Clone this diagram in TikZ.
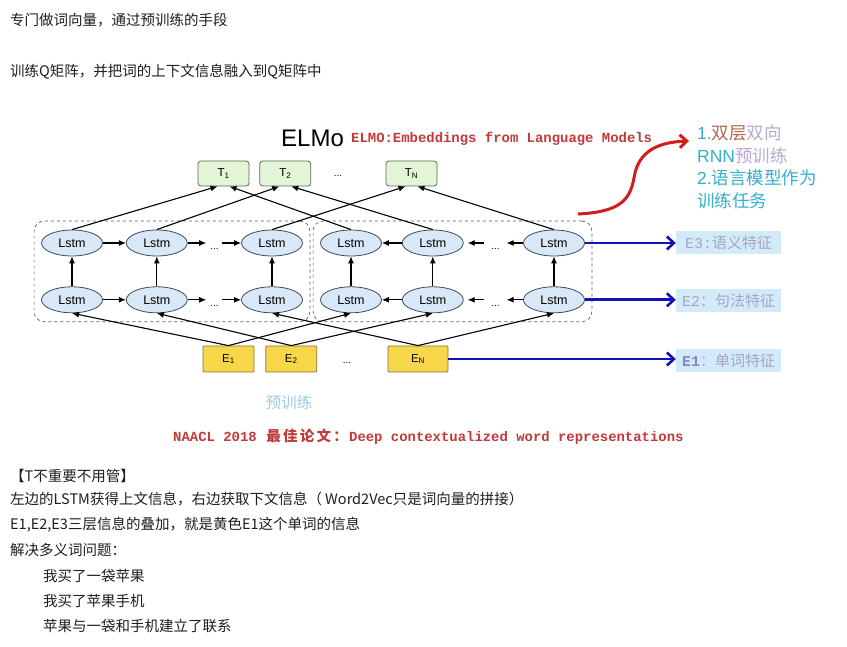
\documentclass[tikz,border=0pt]{standalone}
\usepackage{fontspec}
\setmainfont{Noto Sans CJK SC}
\newfontfamily\arialf{Liberation Sans}
\newfontfamily\monof{Liberation Mono}
\newfontfamily\cjkf{Noto Sans CJK SC}
\usepackage{xcolor}
\usepackage{tikz}
\usetikzlibrary{positioning}
\usetikzlibrary{fit}
\usetikzlibrary{arrows.meta}
\usetikzlibrary{shapes.geometric}

\definecolor{lstmfill}{HTML}{D9E8F7}
\definecolor{lstmline}{HTML}{3C4B5C}
\definecolor{tfill}{HTML}{E3F4D7}
\definecolor{tline}{HTML}{5B6B55}
\definecolor{efill}{HTML}{F7D64A}
\definecolor{eline}{HTML}{8A7440}
\definecolor{featfill}{HTML}{D3EBF8}
\definecolor{feattext}{HTML}{A7A2C9}
\definecolor{featdark}{HTML}{8C84C2}
\definecolor{arrowblue}{HTML}{1111B8}
\definecolor{arrowred}{HTML}{D31C1C}
\definecolor{titlered}{HTML}{C23A3A}
\definecolor{tealtext}{HTML}{35AED0}
\definecolor{brn}{HTML}{B0684F}
\definecolor{lpurp}{HTML}{B7A9D3}
\definecolor{pretraincol}{HTML}{9CCDE0}
\definecolor{bodycol}{HTML}{1E1E1E}

\newcommand{\cjkwide}[1]{\makebox[16.8pt]{\cjkf\fontsize{14.5}{15}\selectfont #1}}

\tikzset{
  myarrow/.style={
    draw=black,
    line width=1.1pt,
    -{Latex[length=7pt,width=6pt]},
  },
  bluearrow/.style={
    draw=arrowblue,
    line width=2.6pt,
    -{Straight Barb[length=7pt,width=13pt]},
  },
  redarrow/.style={
    draw=arrowred,
    line width=3pt,
    -{Straight Barb[length=7pt,width=13pt]},
  },
  lstm/.style={
    draw=lstmline,
    shape=ellipse,
    fill=lstmfill,
    line width=0.8pt,
    inner sep=0pt,
    minimum width=61pt,
    minimum height=26pt,
    font=\arialf\fontsize{12.5}{14}\selectfont
  },
  tbox/.style={
    draw=tline,
    shape=rectangle,
    fill=tfill,
    rounded corners=3pt,
    line width=0.8pt,
    inner sep=0pt,
    minimum width=51pt,
    minimum height=25pt,
    font=\arialf\fontsize{11.5}{12}\selectfont
  },
  ebox/.style={
    draw=eline,
    shape=rectangle,
    fill=efill,
    rounded corners=1pt,
    line width=0.8pt,
    inner sep=0pt,
    minimum width=51pt,
    minimum height=26pt,
    font=\arialf\fontsize{11.5}{12}\selectfont
  },
  dotnode/.style={
    inner sep=0pt,
    text height=14pt,
    text depth=0pt,
    font=\arialf\fontsize{10}{12}\selectfont
  },
  groupbox/.style={
    draw=black!65,
    dashed,
    line width=0.7pt,
    rounded corners=10pt,
    inner xsep=7pt,
    inner ysep=8.5pt
  },
  featbox/.style={
    fill=featfill,
    text=feattext,
    inner sep=0pt,
    minimum width=105pt,
    minimum height=23pt,
    font=\cjkf\fontsize{15}{16}\selectfont
  },
  titletext/.style={
    anchor=west,
    inner sep=0pt,
    text=titlered,
    font=\monof\bfseries\fontsize{13.93}{15}\selectfont
  },
  bodytext/.style={
    anchor=west,
    inner sep=0pt,
    text=bodycol,
    font=\fontsize{14.5}{17}\selectfont
  }
}

\begin{document}
\begin{tikzpicture}[x=1pt, y=-1pt]
  \fill[white] (0,0) rectangle (847,647);
  \useasboundingbox (0,0) rectangle (847,647);

  \node[bodytext] (intro1) at (10,20) {专门做词向量，通过预训练的手段};
  \node[bodytext] (intro2) at (10,72) {训练Q矩阵，并把词的上下文信息融入到Q矩阵中};

  \node[anchor=west, inner sep=0pt, font=\arialf\fontsize{24}{26}\selectfont] (elmo) at (281,138) {ELMo};
  \node[titletext] (title) at (351,139) {ELMO:Embeddings from Language Models};

  \node[lstm]                      (lt1) at (72,243)           {Lstm};
  \node[lstm]                      (lt2) [right=23pt of lt1]   {Lstm};
  \node[dotnode, minimum width=14pt] (ltd) [right=19.5pt of lt2] {...};
  \node[lstm]                      (lt3) [right=19.5pt of ltd] {Lstm};
  \node[lstm]                      (lf1) [below=30pt of lt1]   {Lstm};
  \node[lstm]                      (lf2) [below=30pt of lt2]   {Lstm};
  \node[dotnode, minimum width=14pt] (lfd) at (ltd |- lf1)     {...};
  \node[lstm]                      (lf3) [below=30pt of lt3]   {Lstm};

  \node[lstm]                      (rt1) at (351,243)          {Lstm};
  \node[lstm]                      (rt2) [right=20pt of rt1]   {Lstm};
  \node[dotnode, minimum width=22pt] (rtd) [right=20.5pt of rt2] {...};
  \node[lstm]                      (rt3) [right=16.5pt of rtd] {Lstm};
  \node[lstm]                      (rf1) [below=30pt of rt1]   {Lstm};
  \node[lstm]                      (rf2) [below=30pt of rt2]   {Lstm};
  \node[dotnode, minimum width=22pt] (rfd) at (rtd |- rf1)     {...};
  \node[lstm]                      (rf3) [below=30pt of rt3]   {Lstm};

  \node[groupbox, fit=(lt1)(lf3)] (lgrp) {};
  \node[groupbox, fit=(rt1)(rf3)] (rgrp) {};

  \node[tbox]    (t1)  at (223.5,173.5)       {T\textsubscript{1}};
  \node[tbox]    (t2)  [right=10pt of t1]     {T\textsubscript{2}};
  \node[dotnode] (tdt) at (338,170)           {...};
  \node[tbox]    (tn)  at (411.5,173.5)       {T\textsubscript{N}};

  \node[ebox]    (e1)  at (228.5,359)         {E\textsubscript{1}};
  \node[ebox]    (e2)  [right=11pt of e1]     {E\textsubscript{2}};
  \node[dotnode] (edt) at (347,356)           {...};
  \node[ebox, minimum width=60pt] (en) at (418,359) {E\textsubscript{N}};

  \foreach \k in {1,2,3} {
    \draw[myarrow] (lf\k) -- (lt\k);
    \draw[myarrow] (rf\k) -- (rt\k);
  }
  \foreach \r in {t,f} {
    \draw[myarrow] (l\r1) -- (l\r2);
    \draw[myarrow, shorten >=1pt] (l\r2) -- (l\r d);
    \draw[myarrow] (l\r d) -- (l\r3);
    \draw[myarrow] (r\r2) -- (r\r1);
    \draw[myarrow, shorten >=4pt] (r\r d) -- (r\r2);
    \draw[myarrow] (r\r3) -- (r\r d);
  }
  \foreach \e/\k in {e1/1, e2/2, en/3} {
    \draw[myarrow] (\e.north) -- (lf\k.south);
    \draw[myarrow] (\e.north) -- (rf\k.south);
  }
  \foreach \t/\k in {t1/1, t2/2, tn/3} {
    \draw[myarrow] (lt\k.north) -- ([xshift=-6pt]\t.south);
    \draw[myarrow] (rt\k.north) -- ([xshift=6pt]\t.south);
  }

  \node[featbox] (f3) at (728.5,243) {{\monof E3:}语义特征};
  \node[featbox] (f2) at (728.5,301) {{\monof E2}：句法特征};
  \node[featbox] (f1) at (728.5,361) {{\monof\bfseries\color{featdark}E1}：单词特征};

  \draw[bluearrow] (rt3.east) -- (f3.west);
  \draw[bluearrow] (rf3.east) -- (rf3.east -| f2.west);
  \draw[bluearrow] (en.east) -- (en.east -| f1.west);

  \node[anchor=north west, align=left, inner sep=0pt, text=tealtext, font=\cjkf\fontsize{17.5}{22.5}\selectfont] (tasks) at (697,125)
    {{\arialf 1.}\textcolor{brn}{双层}\textcolor{lpurp}{双向}\\{\arialf RNN}\textcolor{lpurp}{预训练}\\{\arialf 2.}语言模型作为\\训练任务};
  \coordinate (redstart) at (578,214);
  \coordinate (redend) at (689,141);
  \draw[redarrow] (redstart) .. controls (620,212) and (630,200) .. (634,178) .. controls (638,150) and (660,142) .. (redend);

  \node[inner sep=0pt, text=pretraincol, font=\cjkf\fontsize{15.5}{16}\selectfont] (pretrain) at (289,403) {预训练};
  \node[titletext] (paper) at (173,437) {NAACL 2018 \cjkwide{最}\cjkwide{佳}\cjkwide{论}\cjkwide{文}\cjkwide{：}Deep contextualized word representations};

  \node[bodytext] (note1) at (10,476) {【T不重要不用管】};
  \node[bodytext] (note2) at (10,499) {左边的LSTM获得上文信息，右边获取下文信息（ Word2Vec只是词向量的拼接）};
  \node[bodytext] (note3) at (10,525) {E1,E2,E3三层信息的叠加，就是黄色E1这个单词的信息};
  \node[bodytext] (note4) at (10,550) {解决多义词问题：};
  \node[bodytext] (note5) at (43,576) {我买了一袋苹果};
  \node[bodytext] (note6) at (43,601) {我买了苹果手机};
  \node[bodytext] (note7) at (43,626) {苹果与一袋和手机建立了联系};
\end{tikzpicture}
\end{document}
